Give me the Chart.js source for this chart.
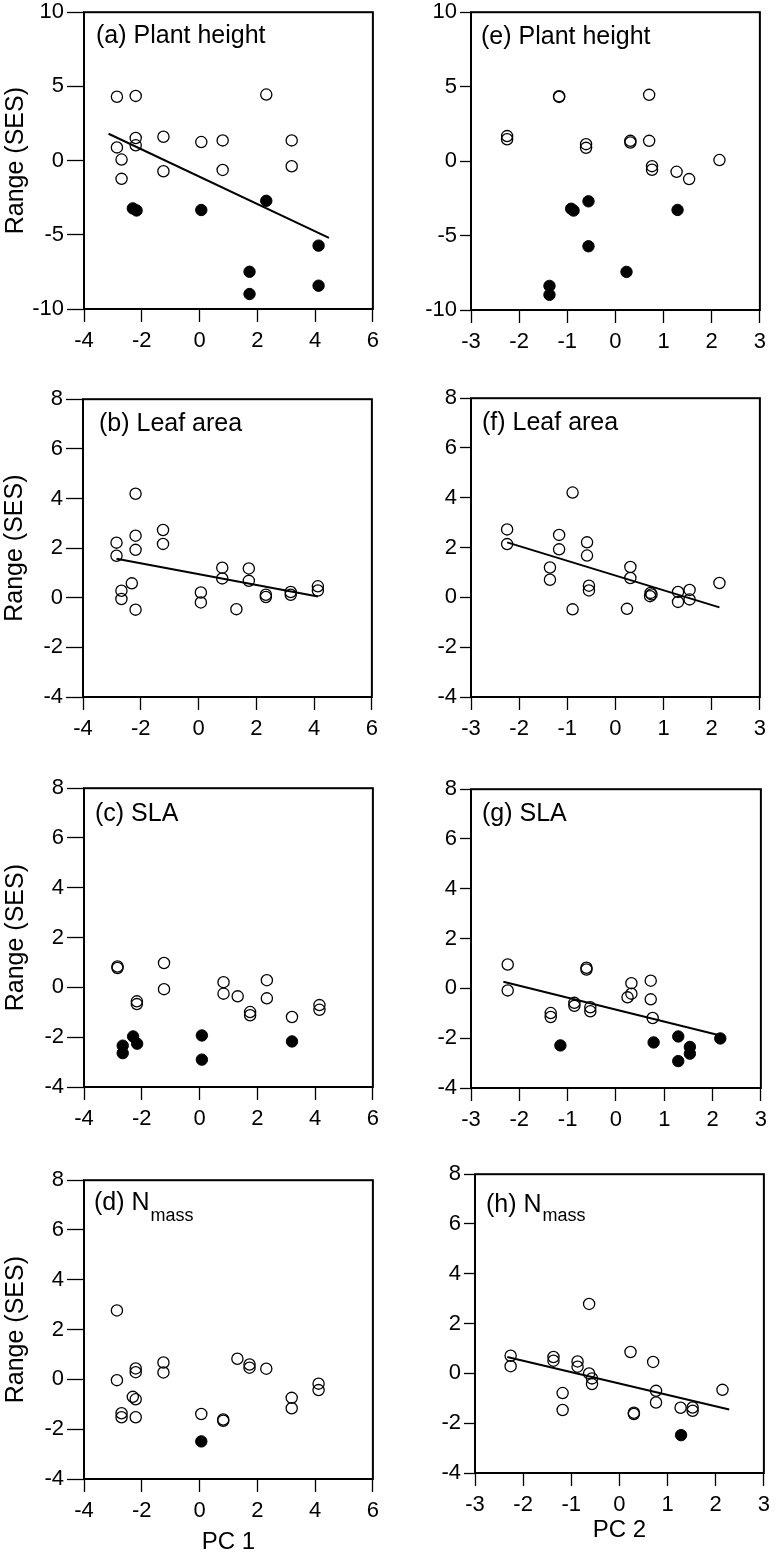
<!DOCTYPE html>
<html>
<head>
<meta charset="utf-8">
<script src="https://cdn.jsdelivr.net/npm/chart.js@4.4.1/dist/chart.umd.min.js"></script>
<style>
  body { margin: 0; background: #fff; }
  #fig { position: relative; width: 776px; height: 1556px; overflow: hidden; background: #fff; }
  #fig canvas { position: absolute; }
</style>
</head>
<body>
<div id="fig"></div>
<script>
// tick sets
const pc1Ticks = [-4, -2, 0, 2, 4, 6];
const pc2Ticks = [-3, -2, -1, 0, 1, 2, 3];
const heightTicks = [-10, -5, 0, 5, 10];
const traitTicks = [-4, -2, 0, 2, 4, 6, 8];

// (a) plant height vs PC 1
const heightPc1Open = [[-2.86,4.30],[-2.21,4.36],[2.31,4.45],[-2.21,1.52],[-2.21,1.03],[-2.86,0.89],[-2.70,0.07],[-2.70,-1.23],[-1.25,1.61],[-1.25,-0.72],[0.06,1.25],[0.80,1.36],[0.80,-0.63],[3.19,1.36],[3.19,-0.38]];
const heightPc1Filled = [[-2.31,-3.22],[-2.18,-3.36],[0.06,-3.33],[2.31,-2.71],[1.73,-7.49],[1.73,-8.99],[4.12,-5.73],[4.12,-8.43]];
const heightPc1Fit = [[-3.15,1.81],[4.48,-5.21]];

// (b) leaf area vs PC 1
const leafPc1Open = [[-2.84,2.22],[-2.84,1.69],[-2.67,0.28],[-2.67,-0.05],[-2.31,0.58],[-2.18,4.19],[-2.18,2.50],[-2.18,1.93],[-2.18,-0.48],[-1.23,2.73],[-1.23,2.17],[0.08,0.21],[0.08,-0.19],[0.82,1.21],[0.82,0.78],[1.31,-0.46],[1.74,1.18],[1.74,0.68],[2.33,0.12],[2.33,0.03],[3.19,0.23],[3.19,0.12],[4.13,0.46],[4.13,0.29]];
const leafPc1Fit = [[-2.84,1.57],[4.13,0.05]];

// (c) SLA vs PC 1
const slaPc1Open = [[-2.84,0.84],[-2.84,0.78],[-2.17,-0.56],[-2.17,-0.67],[-1.23,0.98],[-1.23,-0.07],[0.83,0.21],[0.83,-0.25],[1.32,-0.36],[1.75,-0.99],[1.75,-1.12],[2.33,0.29],[2.33,-0.44],[3.20,-1.19],[4.15,-0.71],[4.15,-0.90]];
const slaPc1Filled = [[-2.66,-2.34],[-2.66,-2.64],[-2.30,-1.97],[-2.16,-2.26],[0.08,-1.93],[0.08,-2.90],[3.20,-2.17]];

// (d) Nmass vs PC 1
const nPc1Open = [[-2.86,2.77],[-2.86,-0.03],[-2.21,0.44],[-2.21,0.29],[-2.31,-0.70],[-2.21,-0.80],[-2.70,-1.36],[-2.70,-1.52],[-2.21,-1.52],[-1.25,0.68],[-1.25,0.28],[0.06,-1.39],[0.82,-1.61],[0.82,-1.66],[1.31,0.83],[1.73,0.60],[1.73,0.47],[2.31,0.43],[3.19,-0.74],[3.19,-1.16],[4.12,-0.17],[4.12,-0.43]];
const nPc1Filled = [[0.06,-2.49]];

// (e) plant height vs PC 2
const heightPc2Open = [[-2.25,1.68],[-2.25,1.47],[-1.17,4.36],[-1.17,4.31],[-0.61,1.14],[-0.61,0.89],[0.31,1.36],[0.31,1.25],[0.70,4.45],[0.70,1.36],[0.76,-0.34],[0.76,-0.58],[1.27,-0.72],[1.53,-1.21],[2.16,0.07]];
const heightPc2Filled = [[-0.92,-3.20],[-0.87,-3.32],[-0.56,-2.70],[-0.56,-5.72],[-1.37,-8.38],[-1.37,-8.98],[0.23,-7.44],[1.29,-3.28]];

// (f) leaf area vs PC 2
const leafPc2Open = [[-2.25,2.73],[-2.25,2.14],[-1.17,2.51],[-1.17,1.93],[-1.36,1.20],[-1.36,0.71],[-0.89,4.21],[-0.89,-0.48],[-0.59,2.21],[-0.59,1.68],[-0.55,0.47],[-0.55,0.28],[0.31,1.22],[0.31,0.78],[0.24,-0.46],[0.73,0.18],[0.75,0.12],[0.72,0.05],[1.30,0.22],[1.30,-0.18],[1.54,0.30],[1.54,-0.08],[2.16,0.58]];
const leafPc2Fit = [[-2.25,2.21],[2.16,-0.40]];

// (g) SLA vs PC 2
const slaPc2Open = [[-2.24,0.96],[-2.24,-0.08],[-1.35,-0.99],[-1.35,-1.15],[-0.86,-0.58],[-0.86,-0.70],[-0.61,0.83],[-0.61,0.76],[-0.53,-0.76],[-0.53,-0.92],[0.24,-0.36],[0.32,0.21],[0.32,-0.21],[0.72,0.31],[0.72,-0.44],[0.76,-1.19]];
const slaPc2Filled = [[-1.15,-2.29],[0.78,-2.17],[1.29,-1.93],[1.29,-2.92],[1.53,-2.35],[1.53,-2.62],[2.16,-2.01]];
const slaPc2Fit = [[-2.33,0.27],[2.16,-1.89]];

// (h) Nmass vs PC 2
const nPc2Open = [[-2.26,0.71],[-2.26,0.29],[-1.37,0.66],[-1.37,0.51],[-1.18,-0.79],[-1.18,-1.47],[-0.87,0.48],[-0.87,0.27],[-0.63,2.79],[-0.63,0.00],[-0.57,-0.20],[-0.57,-0.43],[0.23,0.86],[0.30,-1.58],[0.30,-1.63],[0.70,0.46],[0.76,-0.70],[0.76,-1.17],[1.27,-1.38],[1.52,-1.37],[1.52,-1.50],[2.14,-0.66]];
const nPc2Filled = [[1.28,-2.48]];
const nPc2Fit = [[-2.33,0.66],[2.28,-1.45]];

const FONT = '"Liberation Sans", Arial, Helvetica, sans-serif';
Chart.defaults.font.family = FONT;
Chart.defaults.color = "#000";

// frame box + panel label
const panelFrame = {
  id: "panelFrame",
  afterDatasetsDraw(chart, args, opts) {
    const { ctx, chartArea: a } = chart;
    ctx.save();
    ctx.lineWidth = 2;
    ctx.strokeStyle = "#000";
    ctx.strokeRect(a.left, a.top, a.right - a.left, a.bottom - a.top);
    ctx.fillStyle = "#000";
    ctx.textBaseline = "alphabetic";
    ctx.font = "25px " + FONT;
    const x = a.left + opts.dx, y = a.top + opts.dy;
    ctx.fillText(opts.tag, x, y);
    if (opts.sub) {
      const w = ctx.measureText(opts.tag).width;
      ctx.font = "18px " + FONT;
      ctx.fillText(opts.sub, x + w + 1, y + opts.drop);
    }
    ctx.restore();
  }
};

const panels = [
  { tag: "(a) Plant height", frame: [84, 12, 377, 309], xt: pc1Ticks, yt: heightTicks, open: heightPc1Open, filled: heightPc1Filled, fit: heightPc1Fit, col: 0, dx: 12, dy: 31 },
  { tag: "(b) Leaf area", frame: [83, 399, 376, 697], xt: pc1Ticks, yt: traitTicks, open: leafPc1Open, fit: leafPc1Fit, col: 0, dx: 16, dy: 32 },
  { tag: "(c) SLA", frame: [84, 788, 377, 1087], xt: pc1Ticks, yt: traitTicks, open: slaPc1Open, filled: slaPc1Filled, col: 0, dx: 11, dy: 33 },
  { tag: "(d) N", sub: "mass", frame: [84, 1180, 377, 1479], xt: pc1Ticks, yt: traitTicks, open: nPc1Open, filled: nPc1Filled, col: 0, dx: 10, dy: 30, drop: 11, xTitle: "PC 1", bh: 75 },
  { tag: "(e) Plant height", frame: [471, 12, 764, 310], xt: pc2Ticks, yt: heightTicks, open: heightPc2Open, filled: heightPc2Filled, col: 1, dx: 10, dy: 32 },
  { tag: "(f) Leaf area", frame: [471, 398, 764, 697], xt: pc2Ticks, yt: traitTicks, open: leafPc2Open, fit: leafPc2Fit, col: 1, dx: 11, dy: 32 },
  { tag: "(g) SLA", frame: [471, 789, 765, 1088], xt: pc2Ticks, yt: traitTicks, open: slaPc2Open, filled: slaPc2Filled, fit: slaPc2Fit, col: 1, dx: 11, dy: 32 },
  { tag: "(h) N", sub: "mass", frame: [475, 1174, 768, 1473], xt: pc2Ticks, yt: traitTicks, open: nPc2Open, filled: nPc2Filled, fit: nPc2Fit, col: 1, dx: 11, dy: 38, drop: 9, xTitle: "PC 2", bh: 69 }
];

const fig = document.getElementById("fig");
const toXY = (arr) => arr.map(([x, y]) => ({ x, y }));

function makePanel(p) {
  const AX = 84, PT = 16, PR = 8;
  const BH = p.bh || 50;
  const [l, t, r, b] = p.frame;
  const cv = document.createElement("canvas");
  cv.width = AX + (r - l) + PR;
  cv.height = PT + (b - t) + BH;
  cv.style.left = (l - AX) + "px";
  cv.style.top = (t - PT) + "px";
  fig.appendChild(cv);

  const datasets = [];
  datasets.push({ data: toXY(p.open), pointRadius: 5.6, pointBackgroundColor: "rgba(0,0,0,0)", pointBorderColor: "#000", pointBorderWidth: 1.3 });
  if (p.filled) {
    datasets.push({ data: toXY(p.filled), pointRadius: 5.7, pointBackgroundColor: "#000", pointBorderColor: "#000", pointBorderWidth: 1 });
  }
  if (p.fit) {
    datasets.push({ data: toXY(p.fit), showLine: true, borderColor: "#000", borderWidth: 2, pointRadius: 0 });
  }

  const left = p.col === 0;
  new Chart(cv, {
    type: "scatter",
    data: { datasets },
    options: {
      responsive: false,
      animation: false,
      devicePixelRatio: 1,
      layout: { padding: { top: PT, right: PR, left: 0, bottom: 0 } },
      plugins: {
        legend: { display: false },
        tooltip: { enabled: false },
        panelFrame: { tag: p.tag, sub: p.sub, dx: p.dx, dy: p.dy, drop: p.drop }
      },
      scales: {
        x: {
          type: "linear",
          min: p.xt[0], max: p.xt[p.xt.length - 1],
          ticks: { stepSize: p.xt[1] - p.xt[0], font: { size: 22 }, color: "#000", padding: 6, maxRotation: 0 },
          grid: { drawOnChartArea: false, tickLength: 13, tickColor: "#000", tickWidth: 1.3 },
          border: { display: false },
          title: { display: !!p.xTitle, text: p.xTitle, font: { size: 24, lineHeight: 1 }, color: "#000", padding: 0 },
          afterFit: (s) => { s.height = BH; }
        },
        y: {
          type: "linear",
          min: p.yt[0], max: p.yt[p.yt.length - 1],
          ticks: { stepSize: p.yt[1] - p.yt[0], font: { size: 22 }, color: "#000", padding: 3 },
          grid: { drawOnChartArea: false, tickLength: left ? 17 : 11, tickColor: "#000", tickWidth: 1.3 },
          border: { display: false },
          title: { display: left, text: "Range (SES)", font: { size: 25, lineHeight: 1 }, color: "#000", padding: { top: 4, bottom: 0 } },
          afterFit: (s) => { s.width = AX; }
        }
      }
    },
    plugins: [panelFrame]
  });
}

panels.forEach(makePanel);
</script>
</body>
</html>
